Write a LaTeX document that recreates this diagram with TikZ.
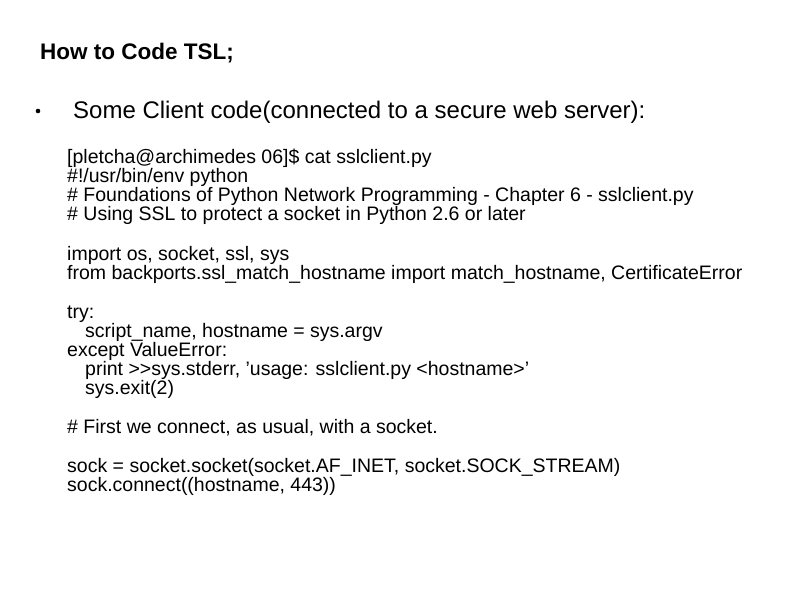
\documentclass[tikz,border=0pt]{standalone}
\usepackage{fontspec}
\setmainfont{Liberation Sans}
\begin{document}
\begin{tikzpicture}[x=1pt,y=-1pt,
  code/.style={anchor=base west,inner sep=0pt,font=\fontsize{19.5}{22}\selectfont},
  titlet/.style={anchor=base west,inner sep=0pt,font=\bfseries\fontsize{22.5}{26}\selectfont},
  bul/.style={anchor=base west,inner sep=0pt,font=\fontsize{24}{28}\selectfont}]
\useasboundingbox (0,0) rectangle (794,595);
\node[titlet] (t) at (40,59) {How to Code TSL;};
\fill (38,111) circle (2.3) coordinate (b);
\node[bul] (s) at (73,118) {Some Client code(connected to a secure web server):};
\node[code] (l1) at (67,163) {[pletcha@archimedes 06]\$ cat sslclient.py};
\node[code] (l2) at (67,182) {\#!/usr/bin/env python};
\node[code] (l3) at (67,201) {\# Foundations of Python Network Programming - Chapter 6 - sslclient.py};
\node[code] (l4) at (67,220) {\# Using SSL to protect a socket in Python 2.6 or later};
\node[code] (l5) at (67,260) {import os, socket, ssl, sys};
\node[code] (l6) at (67,279) {from backports.ssl\_match\_hostname import match\_hostname, CertificateError};
\node[code] (l7) at (67,318) {try:};
\node[code] (l8) at (85,337) {script\_name, hostname = sys.argv};
\node[code] (l9) at (67,356) {except ValueError:};
\node[code] (l10) at (85,375) {print >{}>sys.stderr, \char"0027usage: sslclient.py <hostname>\char"0027};
\node[code] (l11) at (85,394) {sys.exit(2)};
\node[code] (l12) at (67,433) {\# First we connect, as usual, with a socket.};
\node[code] (l13) at (67,472) {sock = socket.socket(socket.AF\_INET, socket.SOCK\_STREAM)};
\node[code] (l14) at (67,491) {sock.connect((hostname, 443))};
\end{tikzpicture}
\end{document}
